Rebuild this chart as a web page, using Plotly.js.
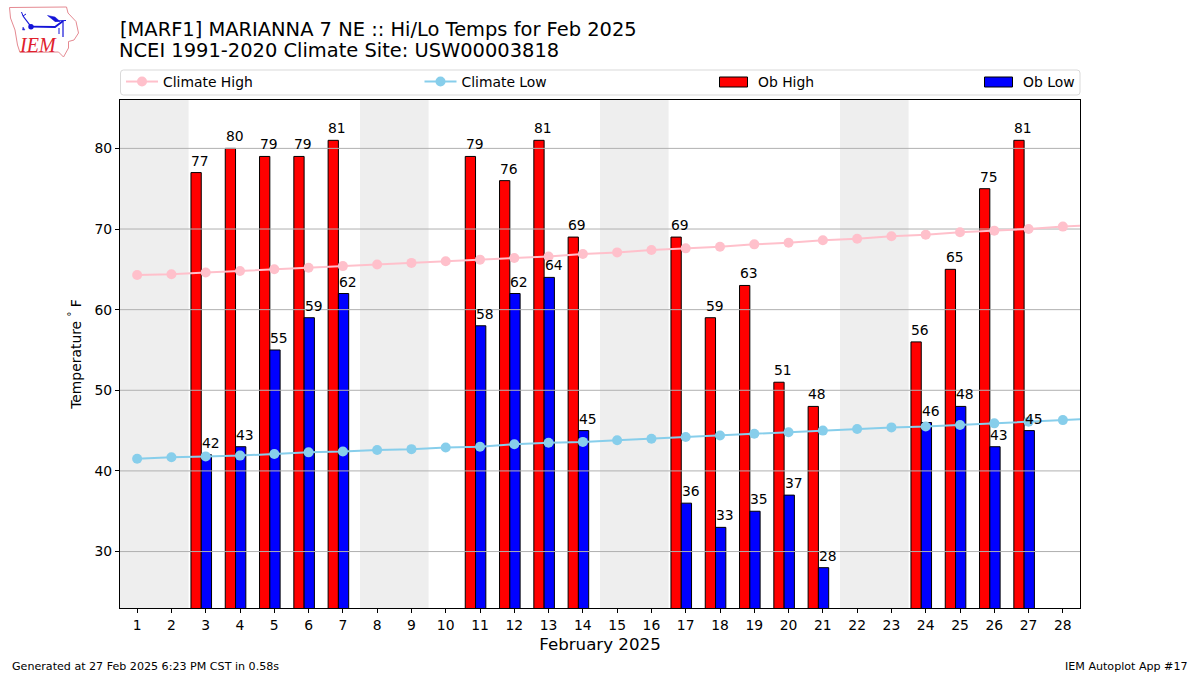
<!DOCTYPE html>
<html>
<head>
<meta charset="utf-8">
<script src="https://cdn.plot.ly/plotly-3.0.0.min.js"></script>
<style>html,body{margin:0;padding:0;background:#fff}</style>
</head>
<body>
<div id="chart" style="width:1200px;height:675px"></div>
<script>
var days = [1,2,3,4,5,6,7,8,9,10,11,12,13,14,15,16,17,18,19,20,21,22,23,24,25,26,27,28];
var obHigh = [null,null,77,80,79,79,81,null,null,null,79,76,81,69,null,null,69,59,63,51,48,null,null,56,65,75,81,null];
var obLow = [null,null,42,43,55,59,62,null,null,null,58,62,64,45,null,null,36,33,35,37,28,null,null,46,48,43,45,null];
var climateDays = [1,2,3,4,5,6,7,8,9,10,11,12,13,14,15,16,17,18,19,20,21,22,23,24,25,26,27,28,29];
var climateHigh = [64.3,64.4,64.6,64.8,65.0,65.2,65.4,65.6,65.8,66.0,66.2,66.4,66.6,66.9,67.1,67.4,67.6,67.8,68.1,68.3,68.6,68.8,69.1,69.3,69.6,69.8,70.0,70.3,70.5];
var climateLow = [41.5,41.7,41.8,41.9,42.1,42.3,42.4,42.6,42.7,42.9,43.0,43.3,43.5,43.6,43.8,44.0,44.2,44.4,44.6,44.8,45.0,45.2,45.4,45.5,45.7,45.9,46.1,46.3,46.5];
var yTicks = [30,40,50,60,70,80];
var weekends = [[0.5,2.5],[7.5,9.5],[14.5,16.5],[21.5,23.5]];
var titleLine1 = "[MARF1] MARIANNA 7 NE :: Hi/Lo Temps for Feb 2025";
var titleLine2 = "NCEI 1991-2020 Climate Site: USW00003818";
var xTitle = "February 2025";
var yTitle = "Temperature <sup>\u00b0</sup> F";
var footerLeft = "Generated at 27 Feb 2025 6:23 PM CST in 0.58s";
var footerRight = "IEM Autoplot App #17";

var FONT = '"DejaVu Sans", sans-serif';
var L = 120, R = 1080, T = 100, B = 608;
function px(x){ return (x - L) / (R - L); }
function py(y){ return (B - y) / (B - T); }
function pathOf(pts, close){
  return pts.map(function(p,i){ return (i ? 'L' : 'M') + px(p[0]) + ',' + py(p[1]); }).join(' ') + (close ? ' Z' : '');
}
function paperShape(o){ o.xref = 'paper'; o.yref = 'paper'; return o; }
function logoLine(pts, color, w){ return paperShape({type:'path', path:pathOf(pts,false), line:{color:color,width:w}, layer:'above'}); }
function logoFill(pts, color){ return paperShape({type:'path', path:pathOf(pts,true), fillcolor:color, line:{color:color,width:0.5}, layer:'above'}); }

function barColors(vals, color){ return vals.map(function(v){ return v === null ? 'rgba(0,0,0,0)' : color; }); }
function barLines(vals){ return vals.map(function(v){ return v === null ? 'rgba(0,0,0,0)' : '#000'; }); }

var traces = [
  {type:'bar', name:'Ob High', x:days, y:obHigh, width:0.3, offset:-0.43, legend:'legend3', showlegend:true,
   marker:{color:barColors(obHigh,'#ff0000'), line:{color:barLines(obHigh), width:1}}, hoverinfo:'x+y'},
  {type:'bar', name:'Ob Low', x:days, y:obLow, width:0.3, offset:-0.13, legend:'legend4', showlegend:true,
   marker:{color:barColors(obLow,'#0000ff'), line:{color:barLines(obLow), width:1}}, hoverinfo:'x+y'}
];
yTicks.forEach(function(v){
  traces.push({type:'scatter', mode:'lines', x:[0.5,28.5], y:[v,v], showlegend:false, hoverinfo:'skip',
    line:{color:'#b0b0b0', width:1}});
});
traces.push({type:'scatter', mode:'lines+markers', name:'Climate High', x:climateDays, y:climateHigh, legend:'legend', showlegend:true,
  line:{color:'#ffc0cb', width:2}, marker:{color:'#ffc0cb', size:10}});
traces.push({type:'scatter', mode:'lines+markers', name:'Climate Low', x:climateDays, y:climateLow, legend:'legend2', showlegend:true,
  line:{color:'#87ceeb', width:2}, marker:{color:'#87ceeb', size:10}});

var annotations = [];
function addLabels(vals, shift){
  vals.forEach(function(v,i){
    if (v === null) return;
    annotations.push({x:days[i], y:v, xref:'x', yref:'y', text:String(v), showarrow:false, xanchor:'center', yanchor:'bottom',
      xshift:shift, yshift:3, font:{family:FONT, size:13.9, color:'#000'}, borderpad:0});
  });
}
addLabels(obHigh, -5.5);
addLabels(obLow, 5);
annotations.push({xref:'paper', yref:'paper', x:px(117), y:py(51), text:titleLine2, showarrow:false, xanchor:'left', yanchor:'middle', font:{family:FONT, size:19.44, color:'#000'}});
annotations.push({xref:'paper', yref:'paper', x:px(9.5), y:py(666), text:footerLeft, showarrow:false, xanchor:'left', yanchor:'middle', font:{family:FONT, size:11.1, color:'#000'}});
annotations.push({xref:'paper', yref:'paper', x:px(1190), y:py(666), text:footerRight, showarrow:false, xanchor:'right', yanchor:'middle', font:{family:FONT, size:11.1, color:'#000'}});
annotations.push({xref:'paper', yref:'paper', x:px(37.5), y:py(45.5), text:'<i>IEM</i>', showarrow:false, xanchor:'center', yanchor:'middle', font:{family:'"Liberation Serif", serif', size:20, color:'#e0202c'}});

var shapes = weekends.map(function(w){
  return {type:'rect', xref:'x', yref:'paper', x0:w[0], x1:w[1], y0:0, y1:1, fillcolor:'#eeeeee', line:{width:0}, layer:'below'};
});
// legend frame
shapes.push(paperShape({type:'path', layer:'below', fillcolor:'#ffffff', line:{color:'#d9d9d9', width:1},
  path:'M'+px(123.5)+','+py(70)+' L'+px(1077)+','+py(70)+' Q'+px(1080)+','+py(70)+' '+px(1080)+','+py(73)+' L'+px(1080)+','+py(92)+' Q'+px(1080)+','+py(95)+' '+px(1077)+','+py(95)+' L'+px(123.5)+','+py(95)+' Q'+px(120.5)+','+py(95)+' '+px(120.5)+','+py(92)+' L'+px(120.5)+','+py(73)+' Q'+px(120.5)+','+py(70)+' '+px(123.5)+','+py(70)+' Z'}));
// wide legend swatches for the bars
shapes.push(paperShape({type:'rect', layer:'below', x0:px(719.5), x1:px(747.5), y0:py(77), y1:py(87), fillcolor:'#ff0000', line:{color:'#000',width:1}}));
shapes.push(paperShape({type:'rect', layer:'below', x0:px(984.5), x1:px(1012.5), y0:py(77), y1:py(87), fillcolor:'#0000ff', line:{color:'#000',width:1}}));
// IEM logo
shapes.push(logoLine([[9.5,7.5],[66.5,7],[68,13],[76,21.5],[78.5,33],[74,40],[68.5,41.5],[68.5,48],[63.5,57],[58.5,52],[20,52.5],[17.5,45],[15,30],[10.5,18],[9.5,7.5]], '#e58a92', 1));
shapes.push(logoLine([[31,26.7],[55,27],[63,21]], '#1414d8', 1.8));
shapes.push(logoLine([[55,21],[66,20.5]], '#1414d8', 1.2));
shapes.push(logoLine([[63,21],[63,37]], '#1414d8', 1.2));
shapes.push(logoLine([[31,26.7],[23,16]], '#1414d8', 1.2));
shapes.push(logoLine([[23,16],[21.5,12]], '#1414d8', 1));
shapes.push(logoLine([[23,16],[26,14]], '#1414d8', 1));
shapes.push(logoLine([[59,28],[59,34]], '#1414d8', 1));
shapes.push(logoFill([[47.5,15.5],[55,17],[60,21.5],[55,21.5]], '#1414d8'));
shapes.push(logoFill([[23,27],[25,30],[22.5,30]], '#2b2bd8'));
shapes.push(paperShape({type:'circle', layer:'above', x0:px(28.3), x1:px(33.7), y0:py(24), y1:py(29.4), fillcolor:'#1414d8', line:{width:0}}));

function lgd(x){ return {x:px(x), y:py(82), xanchor:'left', yanchor:'middle', orientation:'v', bgcolor:'rgba(0,0,0,0)', borderwidth:0,
  itemwidth:32, font:{family:FONT, size:13.9, color:'#000'}, itemclick:false, itemdoubleclick:false}; }

var layout = {
  width:1200, height:675, autosize:false,
  paper_bgcolor:'#fff', plot_bgcolor:'rgba(0,0,0,0)',
  margin:{l:L, r:1200-R, t:T, b:675-B, pad:0, autoexpand:false},
  barmode:'overlay', showlegend:true,
  title:{text:titleLine1, xref:'paper', x:0, xanchor:'left', yref:'container', y:0.967, yanchor:'top', font:{family:FONT, size:19.44, color:'#000'}},
  xaxis:{range:[0.5,28.5], tickmode:'array', tickvals:days, ticktext:days.map(String), showgrid:false, zeroline:false,
    showline:true, mirror:true, linecolor:'#000', linewidth:1, ticks:'outside', ticklen:4, tickcolor:'#000', tickwidth:1,
    tickangle:0, layer:'above traces',
    tickfont:{family:FONT, size:13.9, color:'#000'}, title:{text:xTitle, font:{family:FONT, size:16.67, color:'#000'}, standoff:6}},
  yaxis:{range:[23,86], tickmode:'array', tickvals:yTicks, ticktext:yTicks.map(String), showgrid:false, zeroline:false,
    showline:true, mirror:true, linecolor:'#000', linewidth:1, ticks:'outside', ticklen:4, tickcolor:'#000', tickwidth:1,
    layer:'above traces',
    tickfont:{family:FONT, size:13.9, color:'#000'}, title:{text:yTitle, font:{family:FONT, size:13.9, color:'#000'}, standoff:9}},
  legend:lgd(121), legend2:lgd(419.5), legend3:lgd(716), legend4:lgd(981),
  shapes:shapes, annotations:annotations
};
Plotly.newPlot('chart', traces, layout, {displayModeBar:false, responsive:false});
</script>
</body>
</html>
